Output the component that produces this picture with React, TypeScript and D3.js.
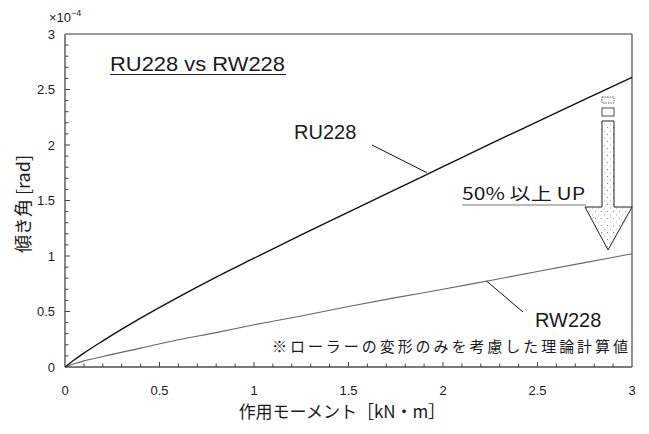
import React from "react";
import * as d3 from "d3";

const xValues = [0, 0.05, 0.1, 0.2, 0.4, 0.6, 0.8, 1.0, 1.25, 1.5, 1.75, 2.0, 2.25, 2.5, 2.75, 3.0];
const ruValues = [0, 0.065, 0.125, 0.235, 0.44, 0.63, 0.81, 0.98, 1.19, 1.395, 1.6, 1.805, 2.01, 2.21, 2.41, 2.61];
const rwValues = [0, 0.03, 0.055, 0.095, 0.17, 0.245, 0.31, 0.38, 0.46, 0.545, 0.625, 0.7, 0.78, 0.86, 0.94, 1.02];
const xTicks = [0, 0.5, 1, 1.5, 2, 2.5, 3];
const xTickLabels = ["0", "0.5", "1", "1.5", "2", "2.5", "3"];
const yTicks = [0, 0.5, 1, 1.5, 2, 2.5, 3];
const yTickLabels = ["0", "0.5", "1", "1.5", "2", "2.5", "3"];
const minorTicks = d3.range(0, 31).map((i) => i / 10);

const LATIN = "'Liberation Sans', Arial, Helvetica, sans-serif";
const JP = "'Noto Sans CJK JP', 'Liberation Sans', sans-serif";

export default function App() {
  const x = d3.scaleLinear().domain([0, 3]).range([65, 632]);
  const y = d3.scaleLinear().domain([0, 3]).range([367, 34]);
  const ruPts: [number, number][] = xValues.map((v, i) => [v, ruValues[i]]);
  const rwPts: [number, number][] = xValues.map((v, i) => [v, rwValues[i]]);
  const line = d3
    .line<[number, number]>()
    .x((d) => x(d[0]))
    .y((d) => y(d[1]))
    .curve(d3.curveMonotoneX);

  const axisColor = "#7a7a7a";
  const textColor = "#1a1a1a";

  return (
    <svg
      width={649}
      height={434}
      viewBox="0 0 649 434"
      style={{ position: "absolute", left: 0, top: 0, background: "#fff" }}
    >
      <defs>
        <pattern id="stip" width="6" height="7" patternUnits="userSpaceOnUse">
          <rect width="6" height="7" fill="#fff" />
          <circle cx="1.5" cy="1.5" r="0.6" fill="#777" />
          <circle cx="4.5" cy="5" r="0.5" fill="#999" />
        </pattern>
      </defs>

      {/* frame */}
      <line x1={x(0)} x2={x(3)} y1={y(3)} y2={y(3)} stroke={axisColor} strokeWidth={1.5} />
      <line x1={x(3)} x2={x(3)} y1={y(3)} y2={y(0)} stroke="#222" strokeWidth={1} />
      <line x1={x(0)} x2={x(0)} y1={y(3)} y2={y(0)} stroke={axisColor} strokeWidth={1.8} />
      <line x1={x(0)} x2={x(3)} y1={y(0)} y2={y(0)} stroke={axisColor} strokeWidth={1.8} />

      {/* ticks */}
      {minorTicks.map((t) => {
        const major = Math.abs(t * 2 - Math.round(t * 2)) < 1e-6;
        const len = major ? 5 : 3.5;
        return (
          <g key={"t" + t}>
            {t > 0 && t < 3 && (
              <line x1={x(t)} x2={x(t)} y1={y(0)} y2={y(0) - len} stroke="#444" strokeWidth={1} />
            )}
            {t > 0 && t < 3 && (
              <line x1={x(0)} x2={x(0) + len} y1={y(t)} y2={y(t)} stroke="#444" strokeWidth={1} />
            )}
          </g>
        );
      })}

      {/* tick labels */}
      {xTicks.map((t, i) => (
        <text
          key={"xl" + t}
          x={x(t)}
          y={395}
          textAnchor="middle"
          fontFamily={LATIN}
          fontSize={13}
          fill={textColor}
        >
          {xTickLabels[i]}
        </text>
      ))}
      {yTicks.map((t, i) => (
        <text
          key={"yl" + t}
          x={55}
          y={y(t) + 4.5}
          textAnchor="end"
          fontFamily={LATIN}
          fontSize={13}
          fill={textColor}
        >
          {yTickLabels[i]}
        </text>
      ))}
      <text x={49} y={22} fontFamily={LATIN} fontSize={13} fill={textColor}>
        ×10
        <tspan dy={-6} fontSize={9}>
          −4
        </tspan>
      </text>

      {/* axis titles */}
      <text
        x={342}
        y={418}
        textAnchor="middle"
        fontFamily={JP}
        fontSize={17}
        fill={textColor}
      >
        作用モーメント［kN・m］
      </text>
      <text
        transform="translate(30,204) rotate(-90)"
        textAnchor="middle"
        fontFamily={JP}
        fontSize={18}
        fill={textColor}
      >
        傾き角 [rad]
      </text>

      {/* data lines */}
      <path d={line(rwPts) || ""} fill="none" stroke="#666" strokeWidth={1.1} />
      <path d={line(ruPts) || ""} fill="none" stroke="#111" strokeWidth={1.4} />

      {/* leaders and labels */}
      <line x1={372} y1={145} x2={x(1.915)} y2={y(1.75)} stroke="#111" strokeWidth={1} />
      <text x={294} y={139} fontFamily={LATIN} fontSize={20} fill={textColor}>
        RU228
      </text>
      <line x1={x(2.23)} y1={y(0.775)} x2={523} y2={312} stroke="#111" strokeWidth={1} />
      <text x={535} y={327} fontFamily={LATIN} fontSize={20} fill={textColor}>
        RW228
      </text>

      {/* title */}
      <text
        x={110}
        y={71}
        fontFamily={LATIN}
        fontSize={20}
        fill={textColor}
        textLength={175}
        lengthAdjust="spacingAndGlyphs"
      >
        RU228 vs RW228
      </text>
      <line x1={110} x2={286} y1={74.5} y2={74.5} stroke="#222" strokeWidth={1} />

      {/* 50% label */}
      <text
        x={462}
        y={200}
        fontFamily={JP}
        fontSize={17}
        fill={textColor}
        textLength={123}
        lengthAdjust="spacingAndGlyphs"
      >
        50% 以上 UP
      </text>
      <line x1={462} x2={586} y1={205} y2={205} stroke="#777" strokeWidth={1.2} />

      {/* arrow */}
      <rect x={602} y={97} width={12} height={6} fill="#fff" stroke="#333" strokeWidth={0.8} strokeDasharray="1.5 1" />
      <rect x={602} y={108} width={12} height={8} fill="#fff" stroke="#333" strokeWidth={0.9} />
      <path
        d="M602,121 L614,121 L614,207 L632,207 L608,250 L585,207 L602,207 Z"
        fill="url(#stip)"
        stroke="#222"
        strokeWidth={1}
      />

      {/* note */}
      <text
        x={272}
        y={352}
        fontFamily={JP}
        fontSize={15}
        fill={textColor}
        textLength={356}
        lengthAdjust="spacing"
      >
        ※ローラーの変形のみを考慮した理論計算値
      </text>
    </svg>
  );
}
